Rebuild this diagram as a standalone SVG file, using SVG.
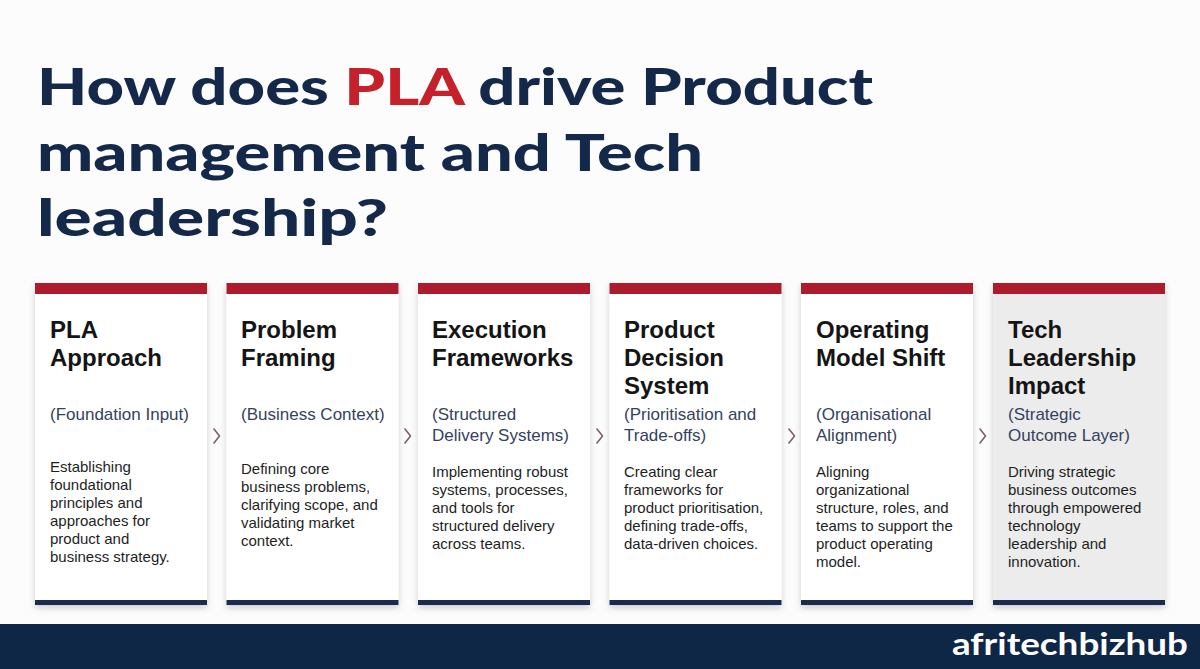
<svg xmlns="http://www.w3.org/2000/svg" width="1200" height="669" viewBox="0 0 1200 669">
<style>
.title{font-family:Lato,"Open Sans",sans-serif;font-weight:900;font-size:52px;fill:#14284a}
.red{fill:#c4212b}
.head{font-family:"Liberation Sans",Arial,sans-serif;font-weight:bold;font-size:24px;fill:#151515}
.sub{font-family:"Liberation Sans",Arial,sans-serif;font-size:17px;fill:#34425e}
.body{font-family:"Liberation Sans",Arial,sans-serif;font-size:15px;fill:#1e1e1e}
.card{fill:#fff}
.card.alt{fill:#ececec}
.top{fill:#ad1c2d}
.bot{fill:#1b2a4e}
.chev{fill:none;stroke:#7d6066;stroke-width:1.6;stroke-linecap:round;stroke-linejoin:round}
.logo{font-family:Lato,"Open Sans",sans-serif;font-weight:bold;font-size:31px;fill:#fff}
</style>
<defs>
<filter id="sh" x="-10%" y="-10%" width="120%" height="125%">
<feDropShadow dx="0" dy="3" stdDeviation="3" flood-color="#000" flood-opacity="0.18"/>
</filter>
</defs>
<rect x="0" y="0" width="1200" height="669" fill="#fcfcfc"/>
<g id="title">
<text class="title" x="37" y="105" textLength="836" lengthAdjust="spacingAndGlyphs">How does <tspan class="red">PLA</tspan> drive Product</text>
<text class="title" x="37" y="171" textLength="666" lengthAdjust="spacingAndGlyphs">management and Tech</text>
<text class="title" x="37" y="236" textLength="351" lengthAdjust="spacingAndGlyphs">leadership?</text>
</g>
<g id="card1">
<rect class="card" x="35" y="283" width="172" height="322" filter="url(#sh)"/>
<rect class="top" x="35" y="283" width="172" height="11"/>
<rect class="bot" x="35" y="600" width="172" height="5"/>
<text class="head" x="50" y="338">PLA</text>
<text class="head" x="50" y="366">Approach</text>
<text class="sub" x="50" y="420">(Foundation Input)</text>
<text class="body" x="50" y="472">Establishing</text>
<text class="body" x="50" y="490">foundational</text>
<text class="body" x="50" y="508">principles and</text>
<text class="body" x="50" y="526">approaches for</text>
<text class="body" x="50" y="544">product and</text>
<text class="body" x="50" y="562">business strategy.</text>
</g>
<g id="card2">
<rect class="card" x="226.5" y="283" width="172" height="322" filter="url(#sh)"/>
<rect class="top" x="226.5" y="283" width="172" height="11"/>
<rect class="bot" x="226.5" y="600" width="172" height="5"/>
<text class="head" x="241" y="338">Problem</text>
<text class="head" x="241" y="366">Framing</text>
<text class="sub" x="241" y="420">(Business Context)</text>
<text class="body" x="241" y="474">Defining core</text>
<text class="body" x="241" y="492">business problems,</text>
<text class="body" x="241" y="510">clarifying scope, and</text>
<text class="body" x="241" y="528">validating market</text>
<text class="body" x="241" y="546">context.</text>
</g>
<g id="card3">
<rect class="card" x="418" y="283" width="172" height="322" filter="url(#sh)"/>
<rect class="top" x="418" y="283" width="172" height="11"/>
<rect class="bot" x="418" y="600" width="172" height="5"/>
<text class="head" x="432" y="338">Execution</text>
<text class="head" x="432" y="366">Frameworks</text>
<text class="sub" x="432" y="420">(Structured</text>
<text class="sub" x="432" y="441">Delivery Systems)</text>
<text class="body" x="432" y="477">Implementing robust</text>
<text class="body" x="432" y="495">systems, processes,</text>
<text class="body" x="432" y="513">and tools for</text>
<text class="body" x="432" y="531">structured delivery</text>
<text class="body" x="432" y="549">across teams.</text>
</g>
<g id="card4">
<rect class="card" x="609.5" y="283" width="172" height="322" filter="url(#sh)"/>
<rect class="top" x="609.5" y="283" width="172" height="11"/>
<rect class="bot" x="609.5" y="600" width="172" height="5"/>
<text class="head" x="624" y="338">Product</text>
<text class="head" x="624" y="366">Decision</text>
<text class="head" x="624" y="394">System</text>
<text class="sub" x="624" y="420">(Prioritisation and</text>
<text class="sub" x="624" y="441">Trade-offs)</text>
<text class="body" x="624" y="477">Creating clear</text>
<text class="body" x="624" y="495">frameworks for</text>
<text class="body" x="624" y="513">product prioritisation,</text>
<text class="body" x="624" y="531">defining trade-offs,</text>
<text class="body" x="624" y="549">data-driven choices.</text>
</g>
<g id="card5">
<rect class="card" x="801" y="283" width="172" height="322" filter="url(#sh)"/>
<rect class="top" x="801" y="283" width="172" height="11"/>
<rect class="bot" x="801" y="600" width="172" height="5"/>
<text class="head" x="816" y="338">Operating</text>
<text class="head" x="816" y="366">Model Shift</text>
<text class="sub" x="816" y="420">(Organisational</text>
<text class="sub" x="816" y="441">Alignment)</text>
<text class="body" x="816" y="477">Aligning</text>
<text class="body" x="816" y="495">organizational</text>
<text class="body" x="816" y="513">structure, roles, and</text>
<text class="body" x="816" y="531">teams to support the</text>
<text class="body" x="816" y="549">product operating</text>
<text class="body" x="816" y="567">model.</text>
</g>
<g id="card6">
<rect class="card alt" x="993" y="283" width="172" height="322" filter="url(#sh)"/>
<rect class="top" x="993" y="283" width="172" height="11"/>
<rect class="bot" x="993" y="600" width="172" height="5"/>
<text class="head" x="1008" y="338">Tech</text>
<text class="head" x="1008" y="366">Leadership</text>
<text class="head" x="1008" y="394">Impact</text>
<text class="sub" x="1008" y="420">(Strategic</text>
<text class="sub" x="1008" y="441">Outcome Layer)</text>
<text class="body" x="1008" y="477">Driving strategic</text>
<text class="body" x="1008" y="495">business outcomes</text>
<text class="body" x="1008" y="513">through empowered</text>
<text class="body" x="1008" y="531">technology</text>
<text class="body" x="1008" y="549">leadership and</text>
<text class="body" x="1008" y="567">innovation.</text>
</g>
<g id="connectors">
<polyline class="chev" points="214,429 219.5,436 214,443"/>
<polyline class="chev" points="405,429 410.5,436 405,443"/>
<polyline class="chev" points="597,429 602.5,436 597,443"/>
<polyline class="chev" points="789,429 794.5,436 789,443"/>
<polyline class="chev" points="980,429 985.5,436 980,443"/>
</g>
<g id="footer">
<rect x="0" y="624" width="1200" height="45" fill="#0f2747"/>
<text class="logo" x="952" y="655" textLength="236" lengthAdjust="spacingAndGlyphs">afritechbizhub</text>
</g>
</svg>
